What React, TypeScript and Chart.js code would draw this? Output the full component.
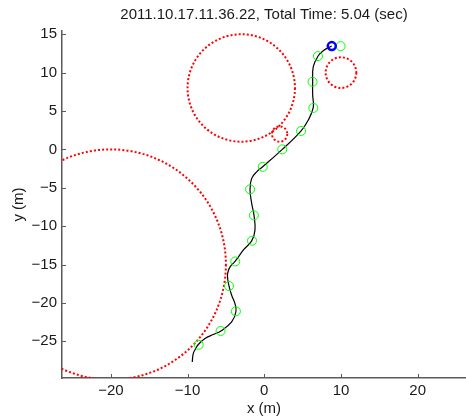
import React, { useEffect, useRef } from 'react';
import { Chart, registerables } from 'chart.js';

Chart.register(...registerables);

const titleText = '2011.10.17.11.36.22, Total Time: 5.04 (sec)';
const xLabel = 'x (m)';
const yLabel = 'y (m)';
const xTicks = [-20, -10, 0, 10, 20];
const yTicks = [-25, -20, -15, -10, -5, 0, 5, 10, 15];
const xRange = [-26.37, 26.3];
const yRange = [-29.78, 15.42];

// obstacles (circles): centre x, centre y, radius
const obstacleX = [-20, -3, 10, 2];
const obstacleY = [-15, 8, 10, 2];
const obstacleR = [15, 7, 2, 1];

// travelled path
const pathX = [-9.39, -9.26, -8.94, -8.6, -7.73, -6.65, -5.65, -4.25, -3.69, -3.82, -4.25, -4.6, -4.8, -4.67, -4.34, -3.78, -2.74, -1.64, -1.21, -1.34, -1.64, -1.86, -1.64, -0.99, -0.21, 2.35, 4.78, 5.74, 6.39, 6.31, 6.31, 6.39, 7.04, 7.69, 8.79];
const pathY = [-27.69, -26.6, -25.95, -25.42, -24.64, -24.12, -23.65, -22.48, -21.12, -20.08, -19.0, -17.78, -16.52, -15.74, -15.15, -14.56, -13.13, -11.92, -10.52, -8.57, -7.04, -5.22, -3.78, -2.92, -2.27, 0, 2.39, 3.82, 5.48, 7.08, 8.81, 10.77, 12.2, 12.86, 13.47];

// sampled waypoints (green circles)
const sampleX = [-8.55, -5.7, -3.7, -4.6, -3.78, -1.6, -1.35, -1.85, -0.2, 2.35, 4.8, 6.4, 6.3, 7.0, 9.95];
const sampleY = [-25.45, -23.65, -21.1, -17.8, -14.6, -11.9, -8.6, -5.2, -2.27, 0, 2.4, 5.4, 8.8, 12.15, 13.45];

// current position (blue)
const robotX = [8.8];
const robotY = [13.45];

const FONT = '"Liberation Sans", Arial, Helvetica, sans-serif';
const AXIS_COLOR = '#5a5a5a';
const TEXT_COLOR = '#1a1a1a';

const fmt = (v: number) => String(v).replace('-', '\u2212');

const obstaclePlugin = {
  id: 'obstacles',
  beforeDatasetsDraw(chart: any) {
    const { ctx, chartArea, scales } = chart;
    const x = scales.x;
    const y = scales.y;
    ctx.save();
    ctx.beginPath();
    ctx.rect(chartArea.left, chartArea.top, chartArea.right - chartArea.left, chartArea.bottom - chartArea.top);
    ctx.clip();
    ctx.strokeStyle = '#ff0000';
    ctx.lineWidth = 2;
    ctx.lineCap = 'butt';
    ctx.setLineDash([2, 2.1]);
    for (let i = 0; i < obstacleX.length; i++) {
      const cx = x.getPixelForValue(obstacleX[i]);
      const cy = y.getPixelForValue(obstacleY[i]);
      const rx = x.getPixelForValue(obstacleX[i] + obstacleR[i]) - cx;
      const ry = cy - y.getPixelForValue(obstacleY[i] + obstacleR[i]);
      ctx.beginPath();
      ctx.ellipse(cx, cy, rx, ry, 0, 0, Math.PI * 2);
      ctx.stroke();
    }
    ctx.restore();
  },
  afterDraw(chart: any) {
    const { ctx, chartArea, scales } = chart;
    const x = scales.x;
    const y = scales.y;
    ctx.save();
    ctx.strokeStyle = AXIS_COLOR;
    ctx.lineWidth = 1;
    ctx.beginPath();
    for (const t of x.ticks) {
      const px = Math.round(x.getPixelForValue(t.value)) + 0.5;
      ctx.moveTo(px, chartArea.bottom);
      ctx.lineTo(px, chartArea.bottom - 4);
    }
    for (const t of y.ticks) {
      const py = Math.round(y.getPixelForValue(t.value)) + 0.5;
      ctx.moveTo(chartArea.left, py);
      ctx.lineTo(chartArea.left + 4, py);
    }
    ctx.stroke();
    ctx.restore();
  },
};

export default function App() {
  const ref = useRef<HTMLCanvasElement | null>(null);

  useEffect(() => {
    if (!ref.current) return;
    Chart.defaults.font.family = FONT;
    const zip = (xs: number[], ys: number[]) => xs.map((v, i) => ({ x: v, y: ys[i] }));
    const chart = new Chart(ref.current, {
      type: 'scatter',
      data: {
        datasets: [
          {
            label: 'robot',
            data: zip(robotX, robotY),
            pointRadius: 4,
            pointBorderWidth: 2.5,
            borderColor: '#0000ff',
            backgroundColor: 'rgba(0,0,0,0)',
            showLine: false,
          },
          {
            label: 'samples',
            data: zip(sampleX, sampleY),
            pointRadius: 4.5,
            pointBorderWidth: 1,
            borderColor: '#00ff00',
            backgroundColor: 'rgba(0,0,0,0)',
            showLine: false,
          },
          {
            label: 'path',
            data: zip(pathX, pathY),
            showLine: true,
            pointRadius: 0,
            borderColor: '#000000',
            borderWidth: 1.2,
            tension: 0.4,
            fill: false,
          },
        ],
      },
      options: {
        animation: false,
        responsive: true,
        maintainAspectRatio: false,
        layout: { padding: 0, autoPadding: false },
        plugins: {
          legend: { display: false },
          tooltip: { enabled: false },
          title: {
            display: true,
            text: titleText,
            fullSize: false,
            color: TEXT_COLOR,
            font: { size: 15, weight: 'normal', family: FONT, lineHeight: 1.2 },
            padding: { top: 6, bottom: 7 },
          },
        },
        scales: {
          x: {
            type: 'linear',
            position: 'bottom',
            min: xRange[0],
            max: xRange[1],
            afterBuildTicks: (s: any) => {
              s.ticks = xTicks.map((v) => ({ value: v }));
            },
            afterFit: (s: any) => {
              s.height = 42;
              s.paddingLeft = 0;
              s.paddingRight = 0;
            },
            grid: { drawOnChartArea: false, drawTicks: false },
            border: { display: true, color: AXIS_COLOR, width: 1.5 },
            ticks: {
              padding: 4,
              color: TEXT_COLOR,
              font: { size: 15, family: FONT },
              maxRotation: 0,
              autoSkip: false,
              callback: (v: any) => fmt(Number(v)),
            },
            title: {
              display: true,
              text: xLabel,
              color: TEXT_COLOR,
              font: { size: 15, family: FONT, lineHeight: 1.2 },
              padding: { top: 0, bottom: 2 },
            },
          },
          y: {
            type: 'linear',
            position: 'left',
            min: yRange[0],
            max: yRange[1],
            afterBuildTicks: (s: any) => {
              s.ticks = yTicks.map((v) => ({ value: v }));
            },
            afterFit: (s: any) => {
              s.width = 62;
              s.paddingTop = 0;
              s.paddingBottom = 0;
            },
            grid: { drawOnChartArea: false, drawTicks: false },
            border: { display: true, color: AXIS_COLOR, width: 1.5 },
            ticks: {
              padding: 5,
              color: TEXT_COLOR,
              font: { size: 15, family: FONT },
              autoSkip: false,
              callback: (v: any) => fmt(Number(v)),
            },
            title: {
              display: true,
              text: yLabel,
              color: TEXT_COLOR,
              font: { size: 15, family: FONT, lineHeight: 1.2 },
              padding: { top: 10, bottom: 0 },
            },
          },
        },
      },
      plugins: [obstaclePlugin],
    } as any);
    return () => chart.destroy();
  }, []);

  return (
    <div style={{ position: 'absolute', left: 0, top: 0, width: 466, height: 420, background: '#fff' }}>
      <canvas ref={ref} />
    </div>
  );
}
